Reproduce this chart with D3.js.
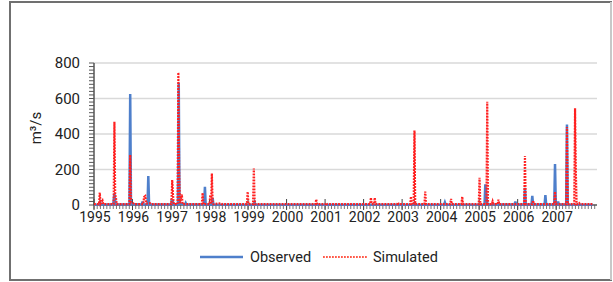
<!DOCTYPE html>
<html>
<head>
<meta charset="utf-8">
<script src="https://cdn.jsdelivr.net/npm/d3@7"></script>
<style>
  body { margin: 0; background: #fff; }
  text { font-family: Roboto, "Liberation Sans", sans-serif; fill: #222; }
</style>
</head>
<body>
<script>
// observed discharge, time as decimal year
let obsT = [1995.00, 1995.14, 1995.16, 1995.18, 1995.50, 1995.53, 1995.56, 1995.92, 1995.94, 1995.96,
            1996.24, 1996.26, 1996.28, 1996.39, 1996.41, 1996.43, 1997.02, 1997.04, 1997.06, 1997.18,
            1997.20, 1997.22, 1997.36, 1997.38, 1997.40, 1997.86, 1997.88, 1997.90, 1998.06, 1998.08,
            1998.10, 1999.15, 1999.17, 1999.19, 2003.30, 2003.32, 2003.34, 2004.09, 2004.11, 2004.13,
            2005.14, 2005.16, 2005.19, 2005.22, 2005.92, 2005.94, 2005.96, 2006.17, 2006.19, 2006.21,
            2006.36, 2006.38, 2006.40, 2006.70, 2006.72, 2006.74, 2006.95, 2006.97, 2006.99, 2007.03,
            2007.05, 2007.07, 2007.26, 2007.28, 2007.30, 2007.95];
let obsQ = [2, 3, 15, 3, 3, 65, 4, 3, 625, 5,
            3, 20, 3, 3, 163, 4, 3, 30, 3, 3,
            689, 10, 3, 12, 3, 3, 103, 3, 3, 40,
            3, 2, 15, 2, 2, 12, 2, 2, 15, 2,
            3, 116, 40, 3, 3, 20, 3, 3, 97, 3,
            3, 51, 3, 3, 56, 3, 3, 231, 3, 3,
            20, 3, 3, 454, 3, 2];

// simulated discharge
let simT = [1995.00, 1995.13, 1995.15, 1995.17, 1995.22, 1995.24, 1995.51, 1995.53, 1995.55, 1995.57,
            1995.59, 1995.92, 1995.94, 1995.96, 1996.00, 1996.05, 1996.28, 1996.30, 1996.33, 1996.36,
            1996.45, 1996.48, 1997.01, 1997.03, 1997.05, 1997.07, 1997.17, 1997.19, 1997.21, 1997.23,
            1997.28, 1997.30, 1997.80, 1997.82, 1997.84, 1998.00, 1998.02, 1998.04, 1998.06, 1998.08,
            1998.10, 1998.30, 1998.32, 1998.97, 1998.99, 1999.01, 1999.13, 1999.15, 1999.17, 1999.19,
            2000.75, 2000.77, 2000.79, 2001.01, 2001.03, 2001.05, 2002.17, 2002.19, 2002.21, 2002.27,
            2002.29, 2002.31, 2002.87, 2002.89, 2002.91, 2003.21, 2003.23, 2003.25, 2003.30, 2003.32,
            2003.34, 2003.58, 2003.60, 2003.62, 2004.25, 2004.27, 2004.29, 2004.54, 2004.56, 2004.58,
            2004.99, 2005.01, 2005.03, 2005.19, 2005.21, 2005.23, 2005.33, 2005.35, 2005.37, 2005.48,
            2005.50, 2005.52, 2006.17, 2006.19, 2006.21, 2006.38, 2006.40, 2006.42, 2006.95, 2006.97,
            2006.99, 2007.26, 2007.28, 2007.30, 2007.47, 2007.49, 2007.51, 2007.53, 2007.58, 2007.60,
            2007.62, 2007.95];
let simQ = [5, 5, 70, 8, 25, 5, 5, 469, 60, 40,
            5, 5, 282, 15, 12, 5, 5, 45, 50, 8,
            10, 5, 5, 141, 60, 5, 5, 747, 200, 10,
            60, 5, 5, 68, 5, 5, 56, 5, 178, 20,
            5, 10, 5, 5, 75, 5, 5, 206, 30, 5,
            5, 32, 5, 5, 12, 5, 5, 41, 5, 5,
            41, 5, 5, 15, 5, 5, 47, 5, 5, 419,
            5, 5, 75, 5, 5, 34, 5, 5, 47, 5,
            5, 154, 5, 5, 582, 5, 5, 20, 5, 5,
            30, 5, 5, 276, 5, 5, 25, 5, 5, 75,
            5, 5, 440, 5, 5, 545, 197, 5, 5, 10,
            5, 5];

let yearLabels = ["1995","1996","1997","1998","1999","2000","2001","2002","2003","2004","2005","2006","2007"];
let yTicks = [0, 200, 400, 600, 800];

let W = 613, H = 282;
let svg = d3.select("body").append("svg")
    .attr("width", W)
    .attr("height", H);

// outer frame
svg.append("rect")
    .attr("x", 10).attr("y", 2)
    .attr("width", 601).attr("height", 278)
    .attr("fill", "none")
    .attr("stroke", "#707070")
    .attr("stroke-width", 2);
svg.append("line")
    .attr("x1", 611).attr("x2", 611).attr("y1", 2).attr("y2", 280)
    .attr("stroke", "#c8c8c8").attr("stroke-width", 2);

let x = d3.scaleLinear().domain([1995, 2008.06]).range([94, 597]);
let y = d3.scaleLinear().domain([0, 800]).range([205, 63]);

// gridlines
svg.append("g").selectAll("line")
    .data(yTicks.slice(1))
    .enter().append("line")
    .attr("x1", x.range()[0]).attr("x2", x.range()[1])
    .attr("y1", d => y(d)).attr("y2", d => y(d))
    .attr("stroke", "#d9d9d9")
    .attr("stroke-width", 1.5);

// y axis with minor ticks every 20
let yMinor = d3.range(0, 801, 20);
svg.append("g").selectAll("line")
    .data(yMinor)
    .enter().append("line")
    .attr("x1", 89).attr("x2", 94)
    .attr("y1", d => y(d)).attr("y2", d => y(d))
    .attr("stroke", "#555").attr("stroke-width", 1);
svg.append("line")
    .attr("x1", 94).attr("x2", 94).attr("y1", y(800)).attr("y2", y(0))
    .attr("stroke", "#555").attr("stroke-width", 1.5);
svg.append("g").selectAll("text")
    .data(yTicks)
    .enter().append("text")
    .attr("x", 80)
    .attr("y", d => y(d) + 5)
    .attr("text-anchor", "end")
    .style("font-size", "15px")
    .text(d => d);

svg.append("text")
    .attr("transform", "translate(41,128) rotate(-90)")
    .attr("text-anchor", "middle")
    .style("font-size", "15px")
    .text("m³/s");

// x axis: monthly minor ticks, year ticks crossing the axis
let months = d3.range(0, 13 * 12 + 1).map(i => 1995 + i / 12);
svg.append("g").selectAll("line")
    .data(months)
    .enter().append("line")
    .attr("x1", d => x(d)).attr("x2", d => x(d))
    .attr("y1", 205).attr("y2", 209)
    .attr("stroke", "#555").attr("stroke-width", 0.8);
svg.append("g").selectAll("line")
    .data(yearLabels)
    .enter().append("line")
    .attr("x1", d => x(+d)).attr("x2", d => x(+d))
    .attr("y1", 199).attr("y2", 210)
    .attr("stroke", "#444").attr("stroke-width", 1);
svg.append("line")
    .attr("x1", x.range()[0]).attr("x2", x.range()[1]).attr("y1", 205).attr("y2", 205)
    .attr("stroke", "#555").attr("stroke-width", 1.5);
svg.append("g").selectAll("text")
    .data(yearLabels)
    .enter().append("text")
    .attr("x", d => x(+d) + 1)
    .attr("y", 222)
    .attr("text-anchor", "middle")
    .style("font-size", "14px")
    .text(d => d);

// series
let line = d3.line()
    .x(d => x(d[0]))
    .y(d => y(d[1]));

svg.append("path")
    .datum(d3.zip(obsT, obsQ))
    .attr("d", line)
    .attr("fill", "none")
    .attr("stroke", "#4e7fcb")
    .attr("stroke-width", 2.5);

svg.append("path")
    .datum(d3.zip(simT, simQ))
    .attr("d", line)
    .attr("fill", "none")
    .attr("stroke", "#ff2020")
    .attr("stroke-width", 2.2)
    .attr("stroke-dasharray", "1.8,1.2");

// legend
let leg = svg.append("g");
leg.append("line")
    .attr("x1", 200).attr("x2", 243).attr("y1", 257).attr("y2", 257)
    .attr("stroke", "#4e7fcb").attr("stroke-width", 2.5);
leg.append("text")
    .attr("x", 250).attr("y", 262)
    .style("font-size", "14.5px")
    .text("Observed");
leg.append("line")
    .attr("x1", 323).attr("x2", 367).attr("y1", 257).attr("y2", 257)
    .attr("stroke", "#ff5a4a").attr("stroke-width", 2)
    .attr("stroke-dasharray", "1.8,1.2");
leg.append("text")
    .attr("x", 373).attr("y", 262)
    .style("font-size", "14.5px")
    .text("Simulated");
</script>
</body>
</html>
